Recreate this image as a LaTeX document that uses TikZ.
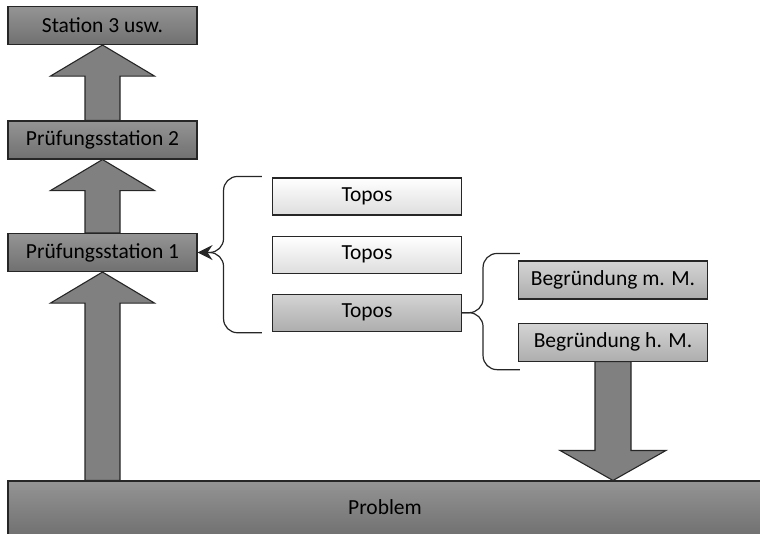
\documentclass[tikz,border=0pt]{standalone}
\usepackage{fontspec}
\setmainfont{Carlito}
\usetikzlibrary{arrows.meta,positioning,calc}

% fat block arrows between two nodes
\newcommand{\fatup}[2]{%
  \draw[fat] let \p1=(#1.north), \p2=(#2.south) in
    ({\x2-17.5pt},\y1) -- ({\x2-17.5pt},{\y2-31pt}) -- ({\x2-52pt},{\y2-31pt})
    -- (\x2,\y2) -- ({\x2+52pt},{\y2-31pt}) -- ({\x2+17.5pt},{\y2-31pt})
    -- ({\x2+17.5pt},\y1) -- cycle;}
\newcommand{\fatdown}[2]{%
  \draw[fat] let \p1=(#1.south), \p2=(#2.north) in
    ({\x1-18pt},\y1) -- ({\x1-18pt},{\y2+30pt}) -- ({\x1-53pt},{\y2+30pt})
    -- (\x1,\y2) -- ({\x1+53pt},{\y2+30pt}) -- ({\x1+18pt},{\y2+30pt})
    -- ({\x1+18pt},\y1) -- cycle;}

\begin{document}
\begin{tikzpicture}[x=1pt, y=-1pt,
  font=\fontsize{21.5}{25}\selectfont,
  box/.style={draw=black!85, line width=1.1pt, minimum width=189pt,
              minimum height=38pt, inner sep=0pt},
  dark/.style={box, top color=black!42, bottom color=black!56},
  light/.style={box, top color=white, bottom color=black!13, minimum height=37pt},
  mid/.style={box, top color=black!17, bottom color=black!32},
  fat/.style={draw=black!85, line width=1.1pt, fill=black!50},
  brace/.style={draw=black!85, line width=1.2pt, rounded corners=14pt}
]
\useasboundingbox (0,0) rectangle (760,533);
\clip (0,0) rectangle (760,533);

% stations
\node[dark] (st3) at (102.5,25.5) {Station 3 usw.};
\node[dark] (st2) at (102.5,140) {Prüfungsstation 2};
\node[dark] (st1) at (102.5,252.5) {Prüfungsstation 1};
\node[dark, minimum width=754pt, minimum height=55pt] (prob) at (385,508.5) {};
\node at (385,507) {Problem};

% topoi
\node[light] (t1) at (367,196.5) {Topos};
\node[light, below=20pt of t1] (t2) {Topos};
\node[mid, below=20pt of t2, minimum height=37pt] (t3) {Topos};

% reasons
\node[mid] (bm) at (613,280) {Begründung m. M.};
\node[mid, below=23pt of bm] (bh) {Begründung h. M.};

\fatup{st2}{st3}
\fatup{st1}{st2}
\fatup{prob}{st1}
\fatdown{bh}{prob}

% braces
\coordinate (lv) at ($(st1.east)+(26,0)$);
\draw[brace, -{Stealth[length=15pt, width=15pt, inset=5pt]}]
  ($(t1.north west)+(-10,-1)$) -| (lv) -- (st1.east);
\draw[brace] ($(t3.south west)+(-10,1)$) -| (lv) -- ($(st1.east)+(12,0)$);

\coordinate (rv) at ($(t3.east)+(21,0)$);
\draw[brace] ($(bm.north west)+(2,-7)$) -| (rv) -- (t3.east);
\draw[brace] ($(bh.south west)+(2,8)$) -| (rv) -- (t3.east);
\end{tikzpicture}
\end{document}
